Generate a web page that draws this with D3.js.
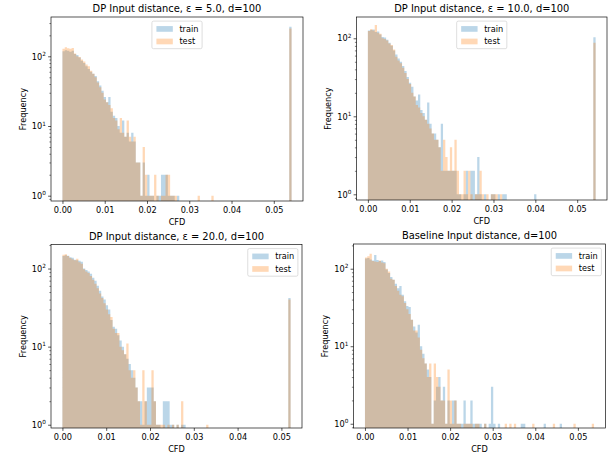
<!DOCTYPE html>
<html><head><meta charset="utf-8">
<script src="https://cdn.jsdelivr.net/npm/d3@7"></script>
<style>body{margin:0;background:#fff} text{font-family:"DejaVu Sans",sans-serif;fill:#000}</style>
</head><body>
<script>
// ---------- data ----------
const xTicks = [0, 0.01, 0.02, 0.03, 0.04, 0.05];
const seriesNames = ["train", "test"];
const titles = ["DP Input distance, \u03b5 = 5.0, d=100", "DP Input distance, \u03b5 = 10.0, d=100",
                "DP Input distance, \u03b5 = 20.0, d=100", "Baseline Input distance, d=100"];
const dataMax = [0.0542, 0.0544, 0.0521, 0.0538];   // histogram range (100 bins from 0)
const binCount = 100;

const p1Train = [118,122,120,116,120,108,104,96,86,80,72,66,60,56,52,44,38,32,26,22,26,16,14,13,10,8,12,7,8,6,8,6,3,3,1,3,1,2,1,1,0,1,1,2,2,2,1,1,1,0,1];
const p1TrainTail = [[99,266]];
const p1Test = [128,135,130,128,132,110,100,98,90,84,76,72,62,56,50,42,36,30,24,22,20,18,13,12,9,13,8,7,12,7,6,7,3,3,1,5,2,1,1,1,2,1,0,1,1,2,2,1,1,1];
const p1TestTail = [[59,1],[65,1],[99,250]];

const p2Train = [126,128,130,120,122,112,104,102,96,88,80,70,62,55,50,44,38,32,27,24,18,16,19,12,11,9,15,8,6,6,5,4,8,2,2,2,2,2,2,1,1,0,1,2,0,2,2,1,3,1,0,1,0,0,1,1,0,1,0,1,1];
const p2TrainTail = [[73,1],[99,103]];
const p2Test = [124,132,126,148,118,114,100,98,94,86,82,72,58,52,48,42,36,30,26,20,18,14,13,11,10,9,8,7,6,5,5,4,2,5,3,2,4,2,5,2,1,1,2,1,2,1,0,1,1,2,1,0,1,0,1,1,1,0,1];
const p2TestTail = [[99,88]];

const p3Train = [145,148,146,140,138,130,128,126,122,100,96,92,86,76,70,60,52,44,40,34,30,22,18,17,14,12,10,8,7,6,5,4,3,2,2,1,2,3,3,3,2,1,1,0,2,2,2,1,1,0,1,0,1,1];
const p3TrainTail = [[99,42]];
const p3Test = [150,152,145,136,132,128,134,120,115,98,92,88,80,72,64,56,48,42,36,30,26,24,17,15,15,10,9,8,11,5,4,5,3,2,1,5,2,1,1,5,2,1,1,1,1,0,1,0,1,0,1,0,2];
const p3TestTail = [[63,1],[99,40]];

const p4Train = [135,138,132,128,150,130,126,128,122,98,88,78,72,64,56,60,46,38,33,32,22,18,15,19,10,8,6,5,4,1,2,3,4,2,3,1,2,1,2,2,1,1,1,2,1,1,2,1,1,1,1,0,1,0,1,3,1,0,1];
const p4TrainTail = [[68,1],[69,1],[78,1],[85,1]];
const p4Test = [140,145,156,126,124,122,128,120,118,100,92,74,72,60,52,46,44,36,30,26,22,16,16,13,9,7,6,4,6,1,6,4,3,2,2,1,5,2,1,2,1,1,0,1,1,1,1,0,1,1];
const p4TestTail = [[52,1],[61,1],[63,1],[65,1],[73,1],[82,1],[91,1],[99,1]];

// ---------- layout ----------
const W = 609, H = 457;
const panels = [
  {title: titles[0], max: dataMax[0], train: [p1Train, p1TrainTail], test: [p1Test, p1TestTail],
   box: {l: 51, r: 303, t: 17, b: 201}, yExp: [-0.076, 2.564], legend: "center"},
  {title: titles[1], max: dataMax[1], train: [p2Train, p2TrainTail], test: [p2Test, p2TestTail],
   box: {l: 356.5, r: 607, t: 17, b: 200}, yExp: [-0.073, 2.273], legend: "center"},
  {title: titles[2], max: dataMax[2], train: [p3Train, p3TrainTail], test: [p3Test, p3TestTail],
   box: {l: 51, r: 302, t: 244.5, b: 428}, yExp: [-0.042, 2.308], legend: "right"},
  {title: titles[3], max: dataMax[3], train: [p4Train, p4TrainTail], test: [p4Test, p4TestTail],
   box: {l: 353.5, r: 605.5, t: 244, b: 428}, yExp: [-0.055, 2.319], legend: "right"}
];
const colors = ["#1f77b4", "#ff7f0e"];
const alpha = 0.3;
const fs = 8.2;

function expand(head, tail) {
  const arr = new Array(binCount).fill(0);
  head.forEach((c, i) => arr[i] = c);
  tail.forEach(([i, c]) => arr[i] = c);
  return arr;
}

const svg = d3.select("body").append("svg").attr("width", W).attr("height", H);
svg.append("rect").attr("width", W).attr("height", H).attr("fill", "#fff");

const sup = {"0": "\u2070", "1": "\u00b9", "2": "\u00b2", "3": "\u00b3"};

panels.forEach(p => {
  const {l, r, t, b} = p.box;
  const g = svg.append("g");
  const x = d3.scaleLinear().domain([-0.05 * p.max, 1.05 * p.max]).range([l, r]);
  const y = d3.scaleLog().domain([Math.pow(10, p.yExp[0]), Math.pow(10, p.yExp[1])]).range([b, t]);
  const w = p.max / binCount;

  const clipId = "c" + Math.round(l) + "_" + Math.round(t);
  svg.append("clipPath").attr("id", clipId).append("rect")
    .attr("x", l).attr("y", t).attr("width", r - l).attr("height", b - t);

  [p.train, p.test].forEach((s, si) => {
    const counts = expand(s[0], s[1]);
    const path = d3.path();
    counts.forEach((c, i) => {
      if (c <= 0) return;
      const x0 = x(i * w), x1 = x((i + 1) * w), y0 = y(c);
      path.rect(x0, y0, x1 - x0, b - y0);
    });
    g.append("path").attr("d", path.toString()).attr("fill", colors[si])
      .attr("fill-opacity", alpha).attr("clip-path", `url(#${clipId})`);
  });

  // x axis
  const xa = g.append("g").attr("transform", `translate(0,${b})`)
    .call(d3.axisBottom(x).tickValues(xTicks).tickFormat(d3.format(".2f")).tickSize(2.9).tickPadding(2.9));
  xa.select(".domain").remove();
  xa.selectAll("line").attr("stroke", "#000").attr("stroke-width", 0.66);
  xa.selectAll("text").attr("font-size", fs).attr("font-family", "DejaVu Sans").attr("fill", "#000");

  // y axis major
  const lo = p.yExp[0], hi = p.yExp[1];
  const majors = d3.range(Math.ceil(lo), Math.floor(hi) + 1).map(k => Math.pow(10, k));
  const minors = [];
  for (let k = Math.floor(lo); k <= Math.ceil(hi); k++) {
    for (let m = 2; m <= 9; m++) {
      const v = m * Math.pow(10, k);
      if (Math.log10(v) >= lo && Math.log10(v) <= hi) minors.push(v);
    }
  }
  const ya = g.append("g").attr("transform", `translate(${l},0)`)
    .call(d3.axisLeft(y).tickValues(majors).tickFormat(() => "").tickSize(2.9));
  ya.select(".domain").remove();
  ya.selectAll("line").attr("stroke", "#000").attr("stroke-width", 0.66);
  const ym = g.append("g").attr("transform", `translate(${l},0)`)
    .call(d3.axisLeft(y).tickValues(minors).tickFormat(() => "").tickSize(1.6));
  ym.select(".domain").remove();
  ym.selectAll("line").attr("stroke", "#000").attr("stroke-width", 0.5);
  majors.forEach(v => {
    const k = Math.round(Math.log10(v));
    const tx = g.append("text").attr("x", l - 5.2).attr("y", y(v) + 3.2)
      .attr("text-anchor", "end").attr("font-size", fs);
    tx.append("tspan").text("10");
    tx.append("tspan").attr("font-size", fs * 0.7).attr("dy", -3.6).text(String(k));
  });

  // spines
  g.append("rect").attr("x", l).attr("y", t).attr("width", r - l).attr("height", b - t)
    .attr("fill", "none").attr("stroke", "#000").attr("stroke-width", 0.66);

  // labels
  g.append("text").attr("x", (l + r) / 2).attr("y", t - 4.9).attr("text-anchor", "middle")
    .attr("font-size", 9.9).text(p.title);
  g.append("text").attr("x", (l + r) / 2).attr("y", b + 23.8).attr("text-anchor", "middle")
    .attr("font-size", fs).text("CFD");
  g.append("text").attr("transform", `translate(${l - 25.5},${(t + b) / 2}) rotate(-90)`)
    .attr("text-anchor", "middle").attr("font-size", fs).text("Frequency");

  // legend
  const lg = g.append("g");
  const pad = 3.3, hl = 16.4, hh = 5.7, htp = 6.6, rowH = 8.45, ls = 4.1;
  const tmp = lg.append("text").attr("font-size", fs).text("train");
  const tw = Math.max(tmp.node().getComputedTextLength(), 0);
  tmp.remove();
  const tmp2 = lg.append("text").attr("font-size", fs).text("test");
  const tw2 = tmp2.node().getComputedTextLength();
  tmp2.remove();
  const lw = pad * 2 + hl + htp + Math.max(tw, tw2) + 1.5;
  const lh = pad * 2 + rowH * 2 + ls;
  const lx = p.legend === "center" ? (l + r) / 2 - lw / 2 : r - 4.1 - lw;
  const ly = t + 4.1;
  lg.append("rect").attr("x", lx).attr("y", ly).attr("width", lw).attr("height", lh)
    .attr("rx", 1.6).attr("fill", "#fff").attr("fill-opacity", 0.8)
    .attr("stroke", "#cccccc").attr("stroke-width", 0.66);
  seriesNames.forEach((n, i) => {
    const cy = ly + pad + rowH / 2 + i * (rowH + ls) + 0.3;
    lg.append("rect").attr("x", lx + pad + 1.2).attr("y", cy - hh / 2).attr("width", hl).attr("height", hh)
      .attr("fill", colors[i]).attr("fill-opacity", alpha);
    lg.append("text").attr("x", lx + pad + 1.2 + hl + htp).attr("y", cy + 3).attr("font-size", fs).text(n);
  });
});
</script>
</body></html>
